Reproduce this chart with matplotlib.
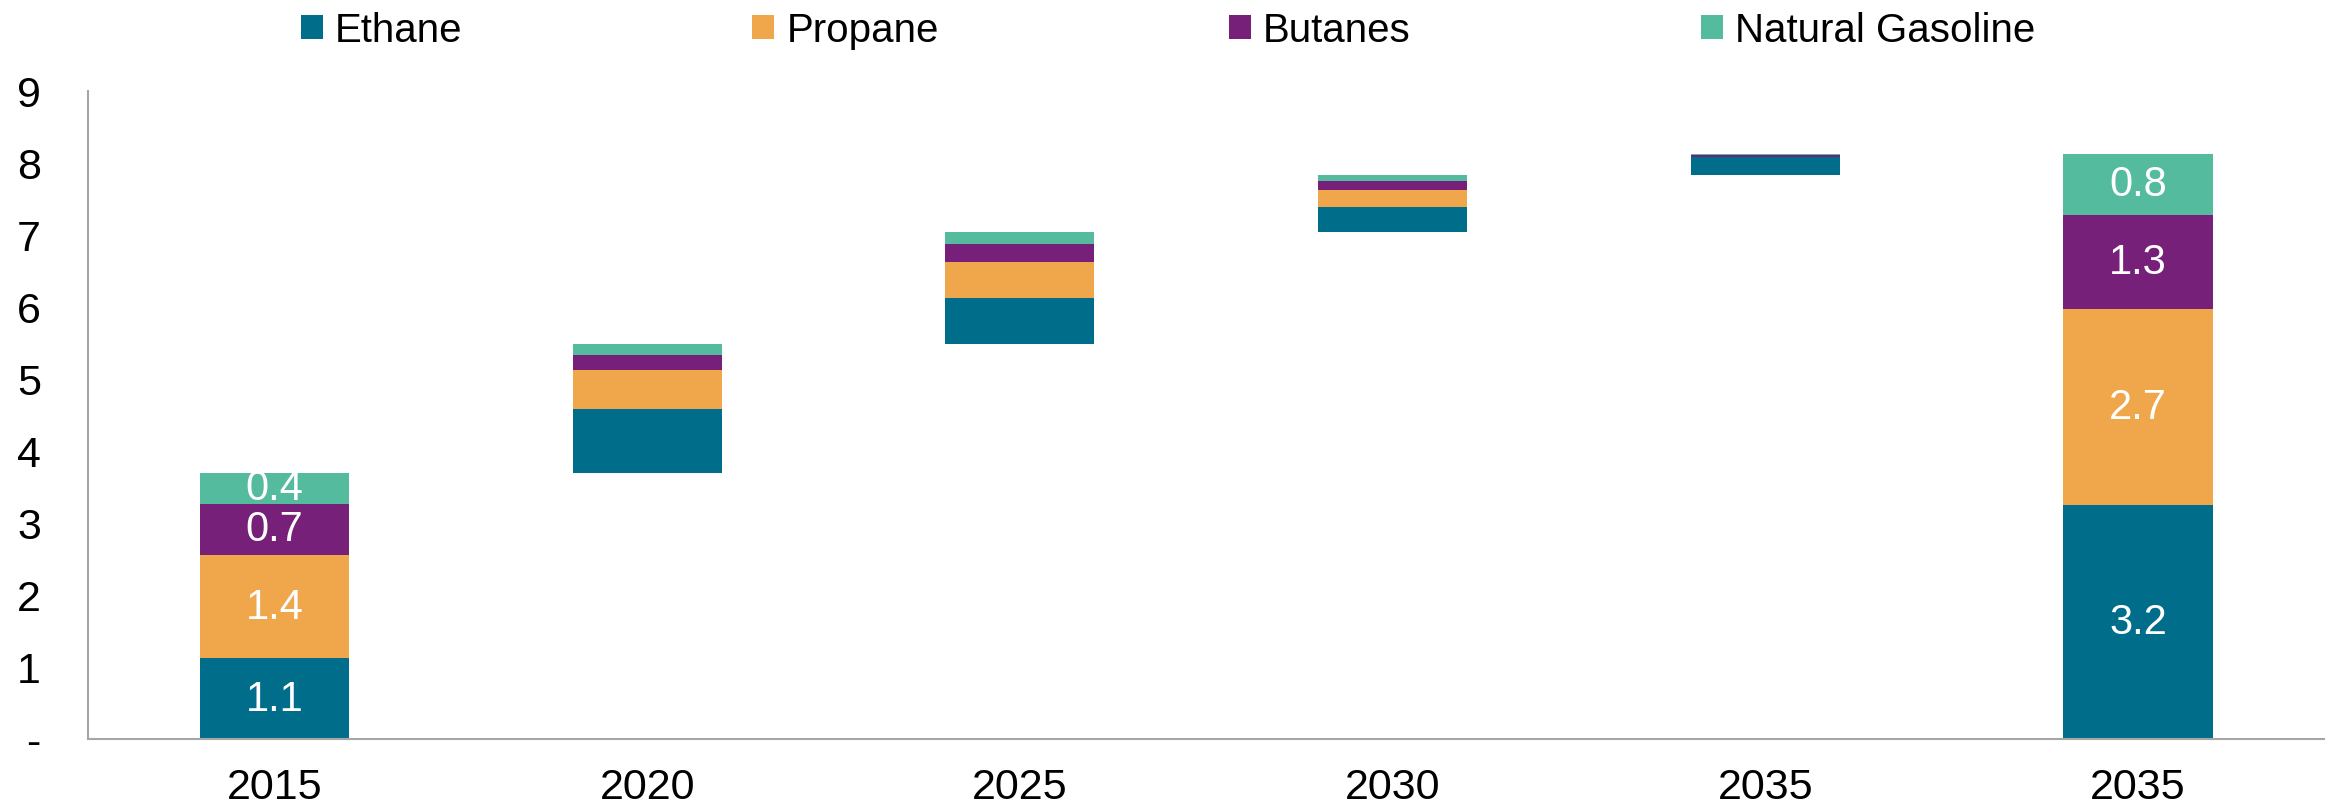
import numpy as np
import matplotlib.pyplot as plt

plt.rcParams['font.family'] = ['Liberation Sans', 'DejaVu Sans']

# 2015 level, then the change over each five-year step; last bar is the 2035 level
categories = ['2015', '2020', '2025', '2030', '2035', '2035']
series = ['Ethane', 'Propane', 'Butanes', 'Natural Gasoline']
ethane = [1.12, 0.88, 0.64, 0.35, 0.26]
propane = [1.44, 0.54, 0.50, 0.24, 0.0]
butanes = [0.70, 0.22, 0.245, 0.125, 0.02]
gasoline = [0.44, 0.15, 0.16, 0.08, 0.015]
colors = ['#006e8a', '#f0a64b', '#772079', '#55bb9f']

steps = np.array([ethane, propane, butanes, gasoline])
heights = np.column_stack([steps, steps.sum(axis=1)])
step_totals = steps.sum(axis=0)
starts = np.concatenate([[0], np.cumsum(step_totals)[:-1], [0]])

fig = plt.figure(figsize=(23.36, 8.12), dpi=100)
ax = fig.add_axes([0.0377, 0.0887, 0.9573, 0.798])

x = np.arange(len(categories))
bottom = starts.copy()
for i, name in enumerate(series):
    ax.bar(x, heights[i], bottom=bottom, width=0.4, color=colors[i],
           label=name, linewidth=0)
    # value labels only on the two full-level bars
    for j in (0, len(categories) - 1):
        ax.text(x[j], bottom[j] + heights[i][j] / 2, f'{heights[i][j]:.1f}',
                ha='center', va='center', color='white', fontsize=30)
    bottom = bottom + heights[i]

ax.set_xlim(-0.5, len(categories) - 0.5)
ax.set_ylim(0, 9)
ax.set_xticks(x)
ax.set_xticklabels(categories)
ax.set_yticks(range(10))
ax.set_yticklabels(['-'] + [str(v) for v in range(1, 10)])
ax.tick_params(axis='both', length=0, labelsize=31)
ax.tick_params(axis='y', pad=34)
ax.tick_params(axis='x', pad=20)

for side in ('top', 'right'):
    ax.spines[side].set_visible(False)
for side in ('left', 'bottom'):
    ax.spines[side].set_color('#a6a6a6')
    ax.spines[side].set_linewidth(1.5)

fig.legend(loc='upper center', bbox_to_anchor=(0.5, 1.03), ncol=4,
           frameon=False, fontsize=29, handlelength=0.55, handleheight=0.55,
           handletextpad=0.3, columnspacing=7.2)

fig.savefig('out.png', dpi=100)
